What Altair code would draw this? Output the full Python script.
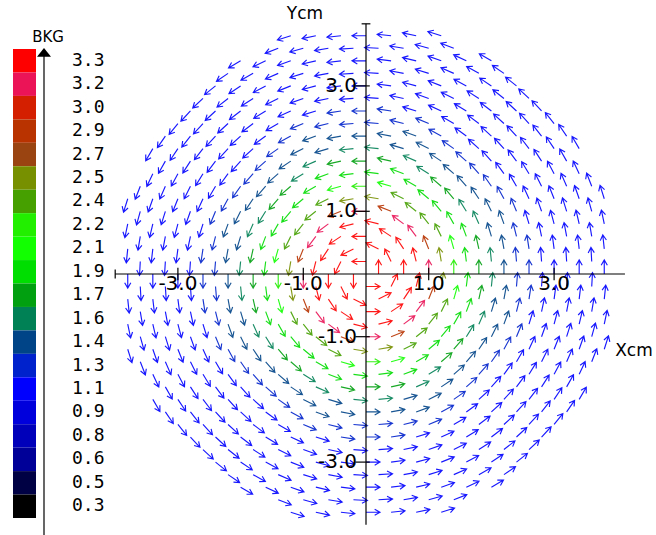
import math
import numpy as np
import pandas as pd
import altair as alt

# ---------------------------------------------------------------------------
# Field of a straight current-carrying wire, sampled on a staggered lattice
# ---------------------------------------------------------------------------
STEP = 0.2          # lattice spacing (cm)
R_MAX = 4.0         # sampled disc radius (cm)

# field magnitude (kG) against distance from the wire (cm)
radius_cm = [0.1, 0.2, 0.3, 0.4, 0.5, 0.6, 0.7, 0.8, 0.9, 1.0,
             1.1, 1.2, 1.3, 1.4, 1.5, 1.6, 1.7, 1.8, 1.9, 2.0,
             2.1, 2.2, 2.3, 2.4, 2.5, 2.6, 2.7, 2.8, 2.9, 3.0,
             3.1, 3.2, 3.3, 3.4, 3.5, 3.6, 3.7, 3.8, 3.9, 4.0]
field_kG = [3.3, 3.3, 3.3, 3.3, 3.3, 3.3, 3.3, 3.3, 3.2, 3.1,
            2.8, 2.55, 2.35, 2.2, 2.05, 1.9, 1.8, 1.7, 1.6, 1.55,
            1.45, 1.4, 1.35, 1.3, 1.3, 1.25, 1.2, 1.1, 1.1, 1.1,
            1.1, 1.1, 1.1, 1.1, 1.1, 1.1, 1.1, 1.1, 1.1, 1.1]

# colour key (top to bottom)
legend_labels = ["3.3", "3.2", "3.0", "2.9", "2.7", "2.5", "2.4", "2.2", "2.1", "1.9",
                 "1.7", "1.6", "1.4", "1.3", "1.1", "0.9", "0.8", "0.6", "0.5", "0.3"]
legend_colors = ["#ff0000", "#ea1457", "#d42000", "#b83300", "#994411", "#779000",
                 "#45a000", "#22ee00", "#11ff00", "#00dd00", "#00a010", "#008055",
                 "#004488", "#0022cc", "#0000ff", "#0000dd", "#0000bb", "#000099",
                 "#000044", "#000000"]

# axis ticks
tick_values = [-3.0, -1.0, 1.0, 3.0]
tick_labels = ["-3.0", "-1.0", "1.0", "3.0"]

# ---------------------------------------------------------------------------
# sample points
# ---------------------------------------------------------------------------
rows = []
n = int(round(R_MAX / STEP))
for i in range(-n, n + 1):
    for j in range(-n, n + 1):
        if (i + j) % 2 == 0:
            continue
        x, y = i * STEP, j * STEP
        r = math.hypot(x, y)
        if r > R_MAX + 1e-9:
            continue
        k = int(np.argmin(np.abs(np.array(radius_cm) - r)))
        rows.append({"x": round(x, 3), "y": round(y, 3), "B": field_kG[k]})
field = pd.DataFrame(rows)

# pixel geometry of the drawing
W, H = 656, 535
PX = 62.7                 # pixels per cm
OX, OY = 366, 274         # pixel position of the origin
xdom = [-OX / PX, (W - OX) / PX]
ydom = [-(H - OY) / PX, OY / PX]
xs = alt.Scale(domain=xdom, nice=False, zero=False)
ys = alt.Scale(domain=ydom, nice=False, zero=False)

vals_asc = [float(v) for v in legend_labels[::-1]]
cols_asc = legend_colors[::-1]
thresholds = [(a + b) / 2 for a, b in zip(vals_asc[:-1], vals_asc[1:])]

# arrow glyph: tail at the sample point, pointing along +x before rotation
ARROW = "M0,0L1,0M0.62,-0.22L1,0L0.62,0.22"

arrows = alt.Chart(field).transform_calculate(
    ang="(atan2(-datum.x, -datum.y) * 180 / PI + 360) % 360"
).mark_point(
    shape=ARROW, filled=False, size=784, strokeWidth=1.15, opacity=0.9
).encode(
    x=alt.X("x:Q", scale=xs, axis=None),
    y=alt.Y("y:Q", scale=ys, axis=None),
    angle=alt.Angle("ang:Q", scale=None),
    color=alt.Color("B:Q", scale=alt.Scale(type="threshold", domain=thresholds,
                                           range=cols_asc), legend=None),
)

# crossing axes
axes_df = pd.DataFrame([
    {"x": -4.0, "x2": 4.13, "y": 0.0, "y2": 0.0},
    {"x": 0.0, "x2": 0.0, "y": -4.0, "y2": 3.99},
    {"x": -0.07, "x2": 0.07, "y": 3.99, "y2": 3.99},
    {"x": -4.0, "x2": -4.0, "y": -0.07, "y2": 0.07},
] + [{"x": -0.17, "x2": 0.06, "y": t, "y2": t} for t in tick_values]
  + [{"x": t, "x2": t, "y": -0.1, "y2": 0.1} for t in tick_values])
axes = alt.Chart(axes_df).mark_rule(color="#000000", strokeWidth=1.2).encode(
    x=alt.X("x:Q", scale=xs, axis=None), x2="x2:Q",
    y=alt.Y("y:Q", scale=ys, axis=None), y2="y2:Q",
)

ticks_df = pd.DataFrame({"v": tick_values, "label": tick_labels, "zero": 0.0})
FONT = "DejaVu Sans"
xlabels = alt.Chart(ticks_df).mark_text(
    font=FONT, fontSize=20, color="#000000", baseline="middle", align="center", dy=10
).encode(x=alt.X("v:Q", scale=xs, axis=None), y=alt.Y("zero:Q", scale=ys, axis=None),
         text="label:N")
ylabels = alt.Chart(ticks_df).mark_text(
    font=FONT, fontSize=20, color="#000000", baseline="middle", align="right", dx=-9
).encode(x=alt.X("zero:Q", scale=xs, axis=None), y=alt.Y("v:Q", scale=ys, axis=None),
         text="label:N")

titles_df = pd.DataFrame([
    {"t": "Ycm", "px": 305, "py": 14},
    {"t": "Xcm", "px": 634, "py": 351},
])
titles = alt.Chart(titles_df).mark_text(
    font=FONT, fontSize=17, color="#000000", baseline="middle", align="center"
).encode(x=alt.X("px:Q", scale=None), y=alt.Y("py:Q", scale=None), text="t:N")

# colour key on the left
BAR_TOP, BAR_BOTTOM = 49.0, 518.0
leg_df = pd.DataFrame({"label": legend_labels, "color": legend_colors,
                       "idx": list(range(len(legend_labels)))})
bin_h = (BAR_BOTTOM - BAR_TOP) / len(legend_labels)
leg_base = alt.Chart(leg_df).transform_calculate(
    y0=f"{BAR_TOP} + datum.idx * {bin_h}",
    y1=f"{BAR_TOP} + (datum.idx + 1) * {bin_h}",
    yc=f"{BAR_TOP} + (datum.idx + 0.5) * {bin_h}",
)
leg_bar = leg_base.mark_rect().encode(
    x=alt.value(13), x2=alt.value(36),
    y=alt.Y("y0:Q", scale=None), y2="y1:Q",
    color=alt.Color("color:N", scale=None),
)
leg_text = leg_base.mark_text(
    font="DejaVu Sans Mono", fontSize=18, color="#000000", align="left", baseline="middle"
).encode(x=alt.value(72), y=alt.Y("yc:Q", scale=None), text="label:N")

leg_axis = alt.Chart(pd.DataFrame({"a": [0]})).mark_rule(
    color="#000000", strokeWidth=1.2
).encode(x=alt.value(44), y=alt.value(54), y2=alt.value(535))
leg_head = alt.Chart(pd.DataFrame({"a": [0]})).mark_point(
    shape="M0,0L1,1.25L-1,1.25Z", filled=True, size=196, color="#000000", opacity=1
).encode(x=alt.value(44), y=alt.value(48))
leg_title = alt.Chart(pd.DataFrame({"t": ["BKG"]})).mark_text(
    font=FONT, fontSize=15, color="#000000", align="center", baseline="middle"
).encode(x=alt.value(48), y=alt.value(37), text="t:N")

chart = alt.layer(
    arrows, axes, xlabels, ylabels, titles,
    leg_bar, leg_axis, leg_head, leg_text, leg_title,
).properties(
    width=W, height=H, padding=0, autosize=alt.AutoSizeParams(type="none"),
    background="#ffffff",
).configure_view(stroke=None)

chart.save("out.html", embed_options={"renderer": "svg", "actions": False})
